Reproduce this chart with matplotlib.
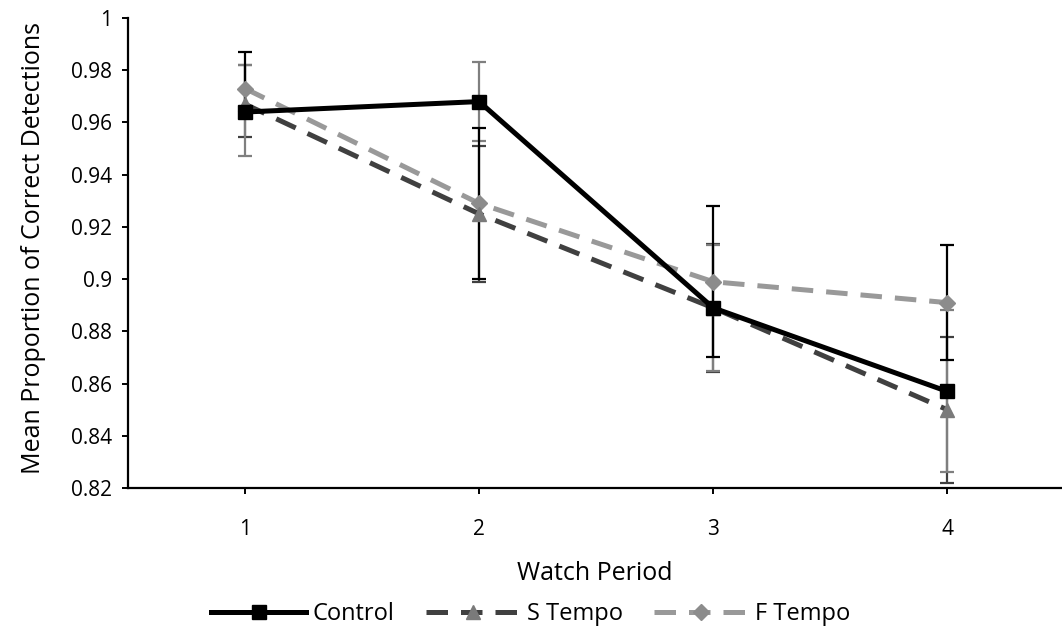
import matplotlib.pyplot as plt
from matplotlib.ticker import FuncFormatter

# Mean proportion of correct detections per watch period
periods = [1, 2, 3, 4]
period_labels = ['1', '2', '3', '4']

control = [0.964, 0.968, 0.889, 0.857]
s_tempo = [0.967, 0.925, 0.889, 0.850]
f_tempo = [0.973, 0.929, 0.899, 0.891]

# Error bar extents (plus / minus)
control_err_plus = [0.018, 0.015, 0.024, 0.031]
control_err_minus = [0.017, 0.015, 0.024, 0.031]
s_err_plus = [0.015, 0.026, 0.0245, 0.028]
s_err_minus = [0.0125, 0.026, 0.0245, 0.028]
f_err_plus = [0.014, 0.029, 0.029, 0.022]
f_err_minus = [0.011, 0.029, 0.029, 0.022]

y_ticks = [0.82, 0.84, 0.86, 0.88, 0.9, 0.92, 0.94, 0.96, 0.98, 1.0]

plt.rcParams['font.family'] = ['Open Sans', 'DejaVu Sans']

fig = plt.figure(figsize=(10.62, 6.32), dpi=100)
ax = fig.add_axes([0.1205, 0.2278, 0.8795, 0.7437])

# error bars sit underneath the series lines
bar_kw = dict(fmt='none', capsize=5, elinewidth=1.6, capthick=1.6)
ax.errorbar(periods, s_tempo, yerr=[s_err_minus, s_err_plus], ecolor='#404040', zorder=1, **bar_kw)
ax.errorbar(periods, control, yerr=[control_err_minus, control_err_plus], ecolor='#7f7f7f', zorder=1.1, **bar_kw)
ax.errorbar(periods, f_tempo, yerr=[f_err_minus, f_err_plus], ecolor='#000000', zorder=1.2, **bar_kw)

ax.plot(periods, control, color='black', lw=3.6, marker='s', ms=10,
        label='Control', zorder=5)
ax.plot(periods, s_tempo, color='#404040', lw=3.6, dashes=(4.3, 2.6), marker='^',
        ms=10, mfc='#7a7a7a', mec='#7a7a7a', label='S Tempo', zorder=4)
ax.plot(periods, f_tempo, color='#999999', lw=3.6, dashes=(4.3, 2.6), marker='D',
        ms=8.5, mfc='#8c8c8c', mec='#8c8c8c', label='F Tempo', zorder=3)

ax.set_xlim(0.5, 4.49)
ax.set_ylim(0.82, 1.0)
ax.set_xticks(periods)
ax.set_xticklabels(period_labels)
ax.set_yticks(y_ticks)
ax.yaxis.set_major_formatter(FuncFormatter(lambda v, _: f'{v:g}'))

for side in ['top', 'right']:
    ax.spines[side].set_visible(False)
for side in ['left', 'bottom']:
    ax.spines[side].set_linewidth(1.6)
    ax.spines[side].set_color('black')

ax.tick_params(axis='y', direction='out', length=4.5, width=1.4, pad=7,
               labelsize=15, colors='black')
ax.tick_params(axis='x', direction='out', length=4.5, width=1.4, pad=18,
               labelsize=15, colors='black')

ax.set_ylabel('Mean Proportion of Correct Detections', fontsize=18)
ax.yaxis.set_label_coords(-0.088, 0.51)
ax.set_xlabel('Watch Period', fontsize=18, labelpad=15)

fig.legend(loc='center', bbox_to_anchor=(0.5, 0.028), ncol=3, frameon=False,
           fontsize=17, handlelength=4.0, columnspacing=1.3, handletextpad=0.3)

fig.savefig('out.png', dpi=100)
